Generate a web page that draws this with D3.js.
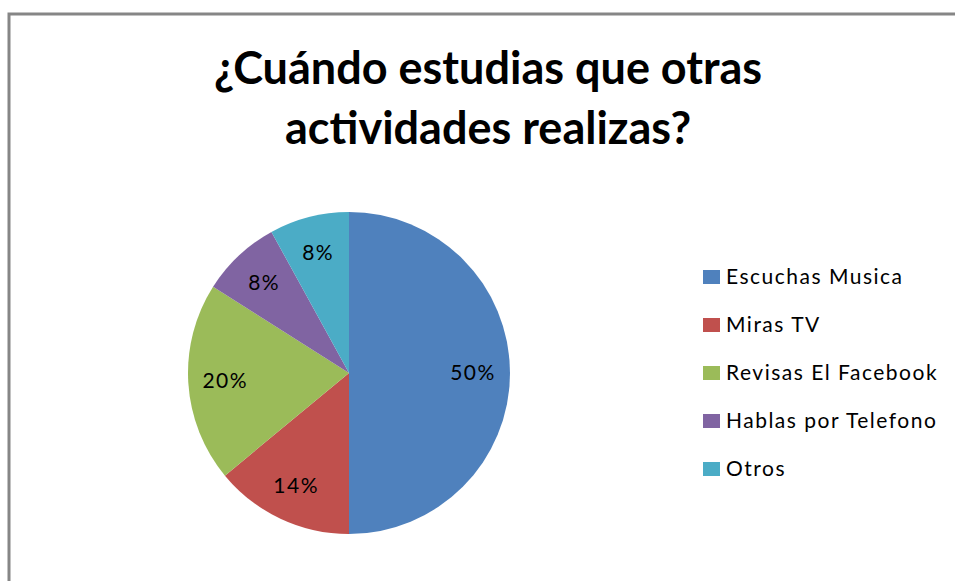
<!DOCTYPE html>
<html>
<head>
<meta charset="utf-8">
<script src="https://cdn.jsdelivr.net/npm/d3@7"></script>
<style>
  body { margin: 0; background: #fff; }
  text { font-family: Lato, "Open Sans", sans-serif; }
</style>
</head>
<body>
<div id="chart"></div>
<script>
// Data
var categories = ["Escuchas Musica", "Miras TV", "Revisas El Facebook", "Hablas por Telefono", "Otros"];
var values = [50, 14, 20, 8, 8];
var colors = ["#4F81BD", "#C0504D", "#9BBB59", "#8064A2", "#4BACC6"];
var titleLines = ["¿Cuándo estudias que otras", "actividades realizas?"];

var width = 955, height = 581;

var svg = d3.select("#chart")
            .append("svg")
            .attr("width", width)
            .attr("height", height);

// chart frame
svg.append("rect")
   .attr("x", 9).attr("y", 14)
   .attr("width", 960).attr("height", 600)
   .attr("fill", "none")
   .attr("stroke", "#868686")
   .attr("stroke-width", 3);

// title
svg.append("g")
   .selectAll("text")
   .data(titleLines)
   .enter().append("text")
   .attr("x", 488)
   .attr("y", function(d, i) { return 84 + i * 60; })
   .attr("text-anchor", "middle")
   .attr("font-size", 45)
   .attr("font-weight", "bold")
   .text(function(d) { return d; });

// pie
var cx = 349, cy = 373, r = 161;
var color = d3.scaleOrdinal().domain(categories).range(colors);

var pie = d3.pie().sort(null).value(function(d) { return d.value; });
var data = categories.map(function(c, i) { return {name: c, value: values[i]}; });
var arcs = pie(data);

var arc = d3.arc().innerRadius(0).outerRadius(r);
var labelArc = d3.arc().innerRadius(r * 0.77).outerRadius(r * 0.77);

var g = svg.append("g").attr("transform", "translate(" + cx + "," + cy + ")");

g.selectAll("path")
 .data(arcs)
 .enter().append("path")
 .attr("d", arc)
 .attr("fill", function(d) { return color(d.data.name); });

g.selectAll("text")
 .data(arcs)
 .enter().append("text")
 .attr("transform", function(d) { return "translate(" + labelArc.centroid(d) + ")"; })
 .attr("text-anchor", "middle")
 .attr("dy", "0.35em")
 .attr("font-size", 21)
 .attr("letter-spacing", 1.5)
 .attr("fill", "#000")
 .text(function(d) { return d.data.value + "%"; });

// legend
var legend = svg.append("g").attr("transform", "translate(703,277)");

var item = legend.selectAll("g")
                 .data(categories)
                 .enter().append("g")
                 .attr("transform", function(d, i) { return "translate(0," + i * 48 + ")"; });

item.append("rect")
    .attr("x", 0).attr("y", -7)
    .attr("width", 17).attr("height", 14)
    .attr("fill", function(d) { return color(d); });

item.append("text")
    .attr("x", 23)
    .attr("dy", "0.35em")
    .attr("font-size", 21)
    .attr("letter-spacing", 1.5)
    .text(function(d) { return d; });
</script>
</body>
</html>
